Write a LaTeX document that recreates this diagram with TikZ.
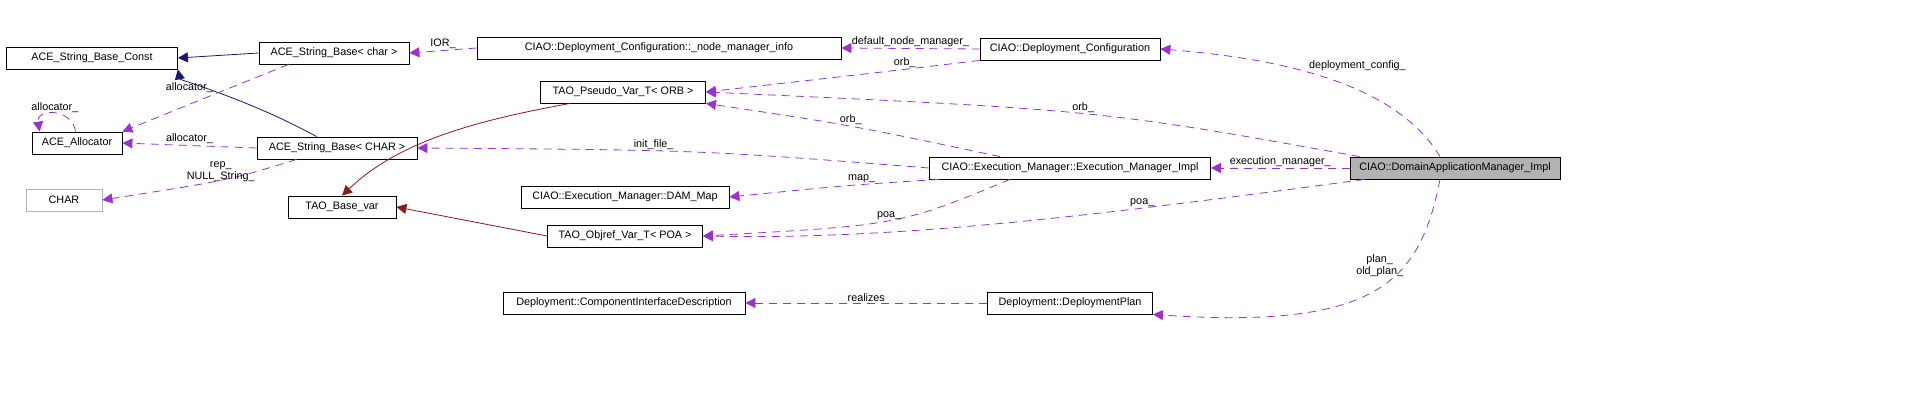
\documentclass[tikz,border=0pt]{standalone}
\usepackage{fontspec}
\setmainfont{Liberation Sans}
\usetikzlibrary{positioning,arrows.meta}
\definecolor{memcol}{RGB}{154,50,205}
\definecolor{inhcol}{RGB}{25,25,112}
\definecolor{tplcol}{RGB}{139,26,26}
\newcommand\boxh{11pt}
\begin{document}
\begin{tikzpicture}[
    x=0.5pt,y=-0.5pt,
    every node/.style={font=\fontsize{5.4}{6.4}\selectfont},
    cls/.style={draw,rectangle,inner sep=0pt,minimum height=\boxh,fill=white},
    ghost/.style={cls,draw=gray!60},
    self/.style={cls,fill=gray!60},
    member/.style={draw=memcol,dashed,dash pattern=on 4pt off 3pt,-{Triangle[length=5pt,width=5pt]}},
    inherit/.style={draw=inhcol,-{Triangle[length=5pt,width=5pt]}},
    templ/.style={draw=tplcol,-{Triangle[length=5pt,width=5pt]}},
    lbl/.style={inner sep=0.5pt,align=center}
  ]
    \useasboundingbox (0,0) rectangle (1909,401);

    % classes
    \node[cls,minimum width=85.5pt] (strconst) at (92,58) {ACE\_String\_Base\_Const};
    \node[cls,minimum width=75pt] (strchar) at (334,53) {ACE\_String\_Base< char >};
    \node[cls,minimum width=182pt] (nodemgr) at (659,48) {CIAO::Deployment\_Configuration::\_node\_manager\_info};
    \node[cls,minimum width=90pt] (depconf) at (1070,49) {CIAO::Deployment\_Configuration};
    \node[cls,minimum width=82.5pt] (pseudo) at (623,92) {TAO\_Pseudo\_Var\_T< ORB >};
    \node[cls,minimum width=45pt] (alloc) at (77,143) {ACE\_Allocator};
    \node[cls,minimum width=80pt] (strCHAR) at (337,148) {ACE\_String\_Base< CHAR >};
    \node[ghost,minimum width=38pt] (charT) at (64,200) {CHAR};
    \node[cls,minimum width=54pt] (basevar) at (342,207) {TAO\_Base\_var};
    \node[cls,minimum width=140.5pt] (execimpl) at (1070,168) {CIAO::Execution\_Manager::Execution\_Manager\_Impl};
    \node[self,minimum width=105pt] (damimpl) at (1455,168) {CIAO::DomainApplicationManager\_Impl};
    \node[cls,minimum width=104pt] (dammap) at (625,197) {CIAO::Execution\_Manager::DAM\_Map};
    \node[cls,minimum width=77.5pt] (objref) at (625,236) {TAO\_Objref\_Var\_T< POA >};
    \node[cls,minimum width=121pt] (cid) at (624,303) {Deployment::ComponentInterfaceDescription};
    \node[cls,minimum width=82.5pt] (plan) at (1070,303) {Deployment::DeploymentPlan};

    % inheritance and templates
    \draw[inherit] (strchar.west) -- (strconst.east);
    \draw[inherit] (strCHAR.north west) ++(60,0) .. controls (250,100) and (180,80) .. (strconst.south east);
    \draw[templ] (pseudo.south west) ++(30,0) .. controls (480,120) and (400,140) .. (basevar.north);
    \draw[templ] (objref.west) -- (basevar.east);

    % members
    \draw[member] (nodemgr.west) -- node[lbl,above] {IOR\_} (strchar.east);
    \draw[member] (depconf.west) -- node[lbl,above] {default\_node\_manager\_} (nodemgr.east);
    \draw[member] (depconf.south west) .. controls (900,70) .. node[lbl,above,pos=0.4] {orb\_} (pseudo.east);
    \draw[member] (damimpl.north) ++(-15,0) .. controls (1400,90) and (1300,60) .. node[lbl,above right,pos=0.6] {deployment\_config\_} (depconf.east);
    \draw[member] (damimpl.north west) ++(10,0) .. controls (1100,110) .. node[lbl,above,pos=0.5] {orb\_} (pseudo.east);
    \draw[member] (execimpl.north) ++(-70,0) .. controls (850,125) .. node[lbl,above,pos=0.5] {orb\_} (pseudo.south east);
    \draw[member] (execimpl.west) .. controls (700,150) .. node[lbl,above,pos=0.6] {init\_file\_} (strCHAR.east);
    \draw[member] (execimpl.south west) ++(10,0) .. controls (850,185) .. node[lbl,above,pos=0.4] {map\_} (dammap.east);
    \draw[member] (execimpl.south) ++(-60,0) .. controls (900,225) .. node[lbl,above,pos=0.5] {poa\_} (objref.east);
    \draw[member] (damimpl.west) -- node[lbl,above] {execution\_manager\_} (execimpl.east);
    \draw[member] (damimpl.south west) ++(15,0) .. controls (1100,215) and (900,240) .. node[lbl,above,pos=0.3] {poa\_} (objref.east);
    \draw[member] (damimpl.south) ++(-15,0) .. controls (1420,280) and (1380,330) .. node[lbl,left,pos=0.35] {plan\_\\old\_plan\_} (plan.south east);
    \draw[member] (plan.west) -- node[lbl,above] {realizes} (cid.east);
    \draw[member] (strchar.south west) ++(30,0) .. controls (200,100) .. node[lbl,above left,pos=0.4] {allocator\_} (alloc.north east);
    \draw[member] (alloc.north west) ++(44,0) .. controls (72,108) and (36,108) .. node[lbl,above] {allocator\_} ([xshift=4]alloc.north west);
    \draw[member] (strCHAR.west) -- node[lbl,above] {allocator\_} (alloc.east);
    \draw[member] (strCHAR.south west) ++(40,0) .. controls (230,180) .. node[lbl,pos=0.25,left] {rep\_\\NULL\_String\_} (charT.east);
\end{tikzpicture}
\end{document}
